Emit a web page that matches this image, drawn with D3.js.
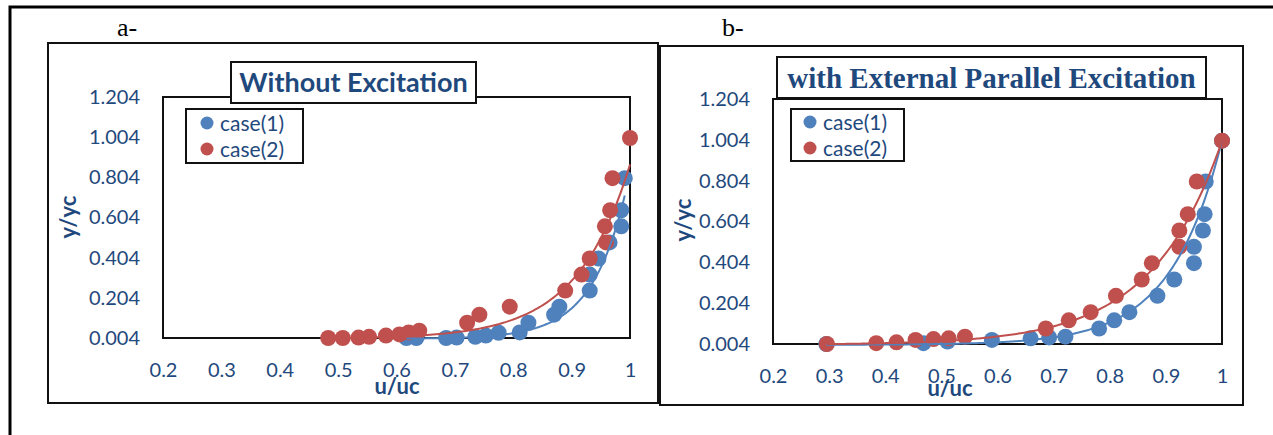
<!DOCTYPE html>
<html>
<head>
<meta charset="utf-8">
<script src="https://cdn.jsdelivr.net/npm/d3@7"></script>
<style>
  html, body { margin: 0; padding: 0; background: #fff; }
  svg { display: block; }
</style>
</head>
<body>
<svg id="fig" width="1273" height="435"></svg>
<script>
// ---- values ----
const xTickValues = [0.2, 0.3, 0.4, 0.5, 0.6, 0.7, 0.8, 0.9, 1];
const yTickValues = [0.004, 0.204, 0.404, 0.604, 0.804, 1.004, 1.204];
const legendLabels = ["case(1)", "case(2)"];
const panelLabels = ["a-", "b-"];
const panelTitles = ["Without Excitation", "with External Parallel Excitation"];
const xAxisTitle = "u/uc";
const yAxisTitle = "y/yc";

// panel a: without excitation
const aCase1U = [0.617, 0.634, 0.685, 0.703, 0.735, 0.753, 0.775, 0.811, 0.826, 0.870, 0.879, 0.931, 0.931, 0.946, 0.965, 0.985, 0.985, 0.991];
const aCase1Y = [0.004, 0.004, 0.004, 0.006, 0.010, 0.016, 0.030, 0.032, 0.080, 0.120, 0.160, 0.240, 0.320, 0.400, 0.480, 0.560, 0.640, 0.800];
const aCase2U = [0.483, 0.508, 0.535, 0.553, 0.582, 0.605, 0.621, 0.639, 0.721, 0.742, 0.794, 0.889, 0.917, 0.931, 0.959, 0.957, 0.966, 0.970, 1.000];
const aCase2Y = [0.004, 0.004, 0.006, 0.010, 0.016, 0.022, 0.032, 0.040, 0.080, 0.120, 0.160, 0.240, 0.320, 0.400, 0.480, 0.560, 0.640, 0.800, 1.000];

// panel b: with external parallel excitation
const bCase1U = [0.295, 0.468, 0.511, 0.590, 0.659, 0.692, 0.721, 0.781, 0.808, 0.835, 0.885, 0.915, 0.950, 0.950, 0.966, 0.969, 0.971, 1.000];
const bCase1Y = [0.004, 0.008, 0.016, 0.024, 0.032, 0.036, 0.040, 0.080, 0.120, 0.160, 0.240, 0.320, 0.400, 0.480, 0.560, 0.640, 0.800, 1.000];
const bCase2U = [0.296, 0.384, 0.420, 0.454, 0.486, 0.513, 0.542, 0.686, 0.727, 0.766, 0.811, 0.857, 0.875, 0.924, 0.924, 0.939, 0.955, 1.000];
const bCase2Y = [0.004, 0.008, 0.012, 0.024, 0.028, 0.032, 0.040, 0.080, 0.120, 0.160, 0.240, 0.320, 0.400, 0.480, 0.560, 0.640, 0.800, 1.000];

// exponential trendlines, y = a * exp(b * u), given as [a, b]
const aTrend1 = [3.44e-8, 17];
const aTrend2 = [1.45e-5, 11];
const bTrend1 = [1.67e-5, 11];
const bTrend2 = [3.35e-4, 8];

// ---- styling / layout ----
const BLUE = "#4f81bd", RED = "#c0504d", INK = "#1f497d";
const SANS = "Lato, 'Open Sans', sans-serif";
const SERIF = "'Liberation Serif', 'DejaVu Serif', serif";

const panels = [
  {
    label: panelLabels[0], labelPos: [117, 36],
    frame: [48, 43, 658, 403],
    plot: [163, 97, 630, 338],
    title: panelTitles[0], titleBox: [231, 62, 476, 103], titleFont: SANS, titleSize: 27, titleBase: 92,
    legend: [186, 109, 303, 163], legendRows: [123, 149], legendMarkX: 207, legendTextX: 220,
    yTitle: [68, 217], xTitle: [397, 394],
    series: [
      { u: aCase1U, y: aCase1Y, color: BLUE, trend: aTrend1 },
      { u: aCase2U, y: aCase2Y, color: RED, trend: aTrend2 }
    ]
  },
  {
    label: panelLabels[1], labelPos: [722, 36],
    frame: [660, 46, 1243, 405],
    plot: [773, 99, 1222, 344],
    title: panelTitles[1], titleBox: [777, 57, 1206, 98], titleFont: SERIF, titleSize: 29, titleBase: 88,
    legend: [791, 109, 904, 161], legendRows: [122, 148], legendMarkX: 810, legendTextX: 823,
    yTitle: [683, 220], xTitle: [950, 396],
    series: [
      { u: bCase1U, y: bCase1Y, color: BLUE, trend: bTrend1 },
      { u: bCase2U, y: bCase2Y, color: RED, trend: bTrend2 }
    ]
  }
];

const svg = d3.select("#fig");

// page frame
svg.append("path")
  .attr("d", "M10,440 L10,7 L1280,7")
  .attr("fill", "none").attr("stroke", "#000").attr("stroke-width", 3);

function boxRect(g, b, sw) {
  return g.append("rect")
    .attr("x", b[0]).attr("y", b[1])
    .attr("width", b[2] - b[0]).attr("height", b[3] - b[1])
    .attr("fill", "none").attr("stroke", "#111").attr("stroke-width", sw);
}

panels.forEach(p => {
  const g = svg.append("g");

  g.append("text")
    .attr("x", p.labelPos[0]).attr("y", p.labelPos[1])
    .attr("font-family", SERIF).attr("font-size", 26)
    .attr("fill", "#000").text(p.label);

  boxRect(g, p.frame, 2);

  const [x0, y0, x1, y1] = p.plot;
  const x = d3.scaleLinear().domain([0.2, 1]).range([x0, x1]);
  const y = d3.scaleLinear().domain([0.004, 1.204]).range([y1, y0]);

  // plot area border
  boxRect(g, p.plot, 2);

  // axes (labels only, no tick marks)
  const yAxis = g.append("g").attr("transform", `translate(${x0},0)`)
    .call(d3.axisLeft(y).tickValues(yTickValues).tickSize(0).tickPadding(23).tickFormat(d3.format(".3f")));
  const xAxis = g.append("g").attr("transform", `translate(0,${y1})`)
    .call(d3.axisBottom(x).tickValues(xTickValues).tickSize(0).tickPadding(25).tickFormat(d3.format("~g")));
  [yAxis, xAxis].forEach(a => {
    a.select(".domain").remove();
    a.selectAll("text").attr("font-family", SANS).attr("font-size", 20).attr("fill", INK);
  });

  // axis titles
  g.append("text")
    .attr("transform", `translate(${p.yTitle[0]},${p.yTitle[1]}) rotate(-90)`)
    .attr("text-anchor", "middle").attr("dy", "0.35em")
    .attr("font-family", SANS).attr("font-weight", 700).attr("font-size", 22)
    .attr("fill", INK).text(yAxisTitle);
  g.append("text")
    .attr("x", p.xTitle[0]).attr("y", p.xTitle[1])
    .attr("text-anchor", "middle")
    .attr("font-family", SANS).attr("font-weight", 700).attr("font-size", 22)
    .attr("fill", INK).text(xAxisTitle);

  // markers: case(1) first, case(2) on top
  p.series.forEach(s => {
    g.append("g").selectAll("circle")
      .data(s.u.map((u, i) => [u, s.y[i]]))
      .join("circle")
      .attr("cx", d => x(d[0])).attr("cy", d => y(d[1]))
      .attr("r", 8).attr("fill", s.color);
  });

  // exponential trendlines over each series' u range
  const line = d3.line().x(d => x(d[0])).y(d => y(d[1]));
  p.series.forEach(s => {
    const [a, b] = s.trend;
    const [lo, hi] = d3.extent(s.u);
    const pts = d3.range(0, 201).map(k => {
      const u = lo + (hi - lo) * k / 200;
      return [u, a * Math.exp(b * u)];
    });
    g.append("path").attr("d", line(pts))
      .attr("fill", "none").attr("stroke", s.color).attr("stroke-width", 2);
  });

  // title box
  const tb = p.titleBox;
  g.append("rect")
    .attr("x", tb[0]).attr("y", tb[1]).attr("width", tb[2] - tb[0]).attr("height", tb[3] - tb[1])
    .attr("fill", "#fff").attr("stroke", "#111").attr("stroke-width", 2);
  g.append("text")
    .attr("x", (tb[0] + tb[2]) / 2).attr("y", p.titleBase)
    .attr("text-anchor", "middle")
    .attr("font-family", p.titleFont).attr("font-weight", 700).attr("font-size", p.titleSize)
    .attr("fill", INK).text(p.title);

  // legend
  const lb = p.legend;
  g.append("rect")
    .attr("x", lb[0]).attr("y", lb[1]).attr("width", lb[2] - lb[0]).attr("height", lb[3] - lb[1])
    .attr("fill", "#fff").attr("stroke", "#111").attr("stroke-width", 2);
  p.series.forEach((s, i) => {
    g.append("circle").attr("cx", p.legendMarkX).attr("cy", p.legendRows[i]).attr("r", 6.5).attr("fill", s.color);
    g.append("text")
      .attr("x", p.legendTextX).attr("y", p.legendRows[i]).attr("dy", "0.36em")
      .attr("font-family", SANS).attr("font-size", 21).attr("fill", INK)
      .text(legendLabels[i]);
  });
});
</script>
</body>
</html>
